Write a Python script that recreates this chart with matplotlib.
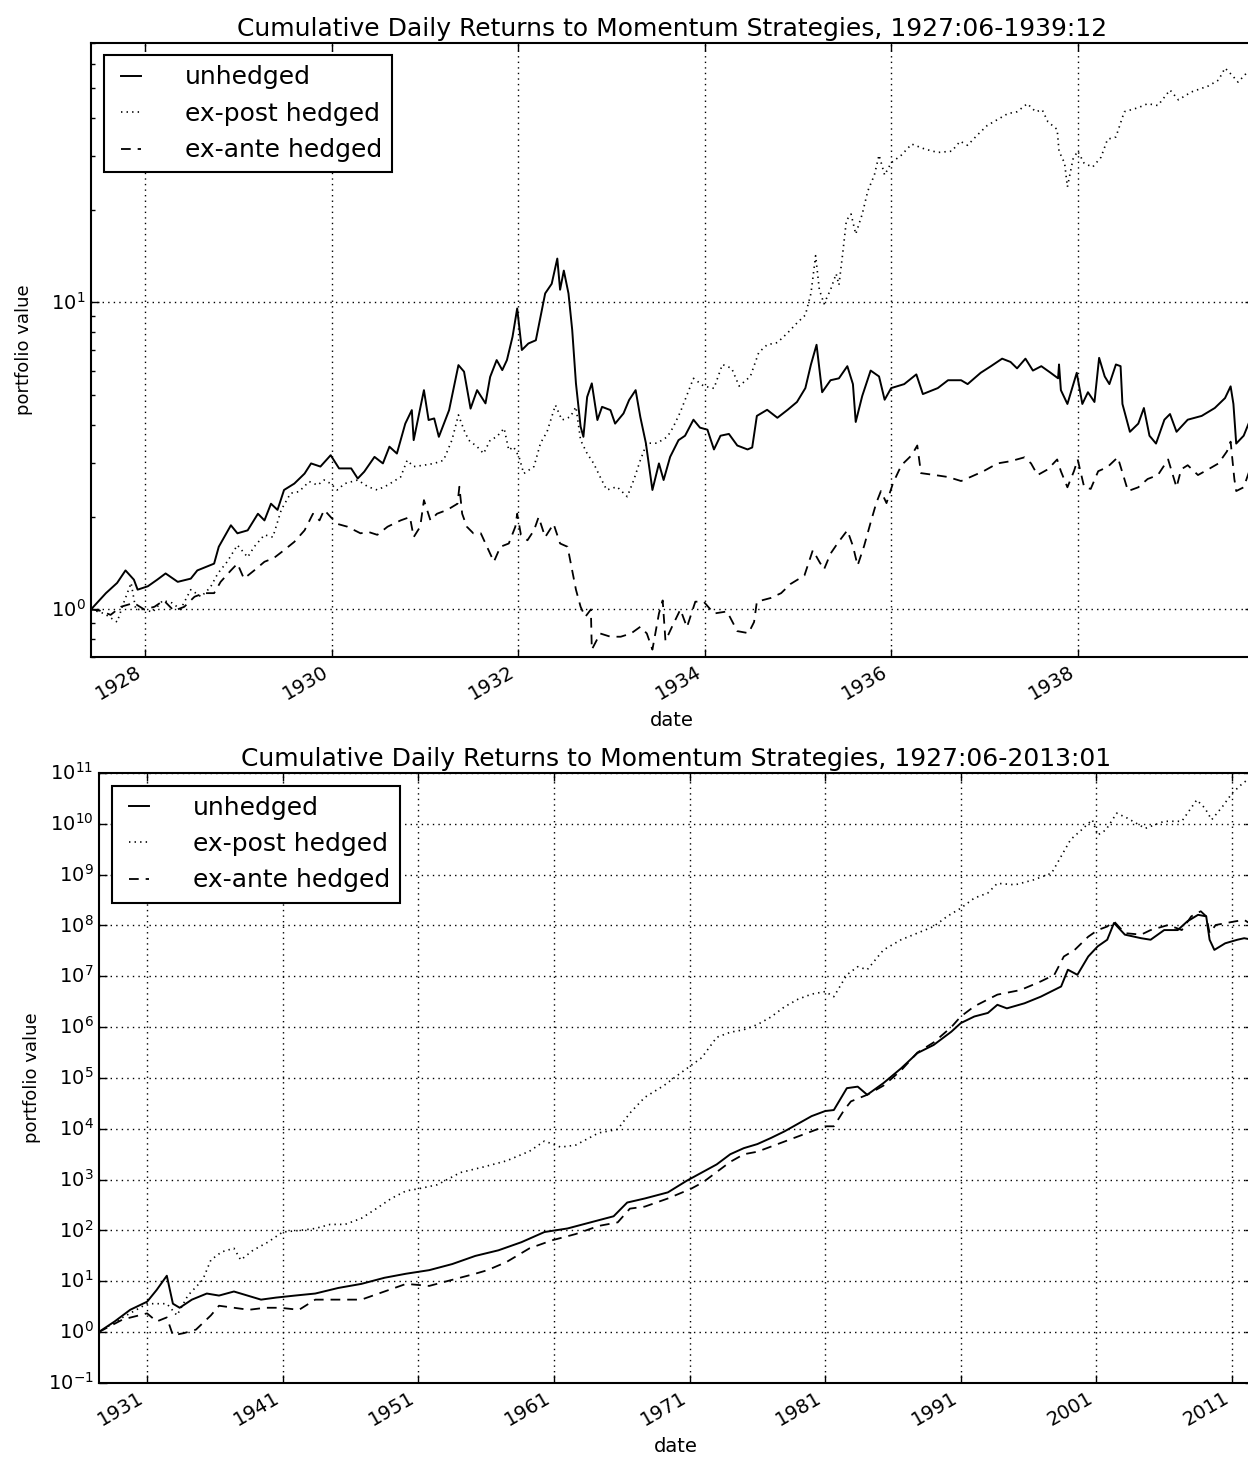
import matplotlib
matplotlib.use("Agg")
import numpy as np
import matplotlib.pyplot as plt
from matplotlib.ticker import FixedLocator, NullFormatter, NullLocator

#%% data (decimal years, portfolio value)

# 1927:06 - 1939:12 panel
top_unhedged_t = [1927.42, 1927.58, 1927.70, 1927.79, 1927.88, 1927.92, 1928.03, 1928.13, 1928.22, 1928.35,
                  1928.49, 1928.56, 1928.74, 1928.79, 1928.92, 1928.99, 1929.10, 1929.21, 1929.28, 1929.35,
                  1929.42, 1929.49, 1929.60, 1929.71, 1929.78, 1929.88, 1929.99, 1930.08, 1930.21, 1930.28,
                  1930.35, 1930.46, 1930.55, 1930.62, 1930.70, 1930.79, 1930.86, 1930.88, 1930.99, 1931.04,
                  1931.10, 1931.15, 1931.26, 1931.36, 1931.42, 1931.49, 1931.56, 1931.65, 1931.70, 1931.77,
                  1931.83, 1931.88, 1931.94, 1931.99, 1932.04, 1932.11, 1932.19, 1932.24, 1932.29, 1932.36,
                  1932.42, 1932.45, 1932.49, 1932.54, 1932.58, 1932.62, 1932.67, 1932.70, 1932.74, 1932.79,
                  1932.85, 1932.90, 1932.99, 1933.04, 1933.13, 1933.19, 1933.26, 1933.31, 1933.37, 1933.44,
                  1933.51, 1933.56, 1933.63, 1933.72, 1933.79, 1933.88, 1933.95, 1934.03, 1934.10, 1934.17,
                  1934.26, 1934.35, 1934.46, 1934.51, 1934.56, 1934.67, 1934.78, 1934.89, 1934.99, 1935.08,
                  1935.14, 1935.20, 1935.26, 1935.35, 1935.44, 1935.53, 1935.59, 1935.62, 1935.69, 1935.78,
                  1935.87, 1935.93, 1936.00, 1936.14, 1936.27, 1936.34, 1936.50, 1936.61, 1936.75, 1936.82,
                  1936.96, 1937.07, 1937.19, 1937.28, 1937.35, 1937.44, 1937.52, 1937.61, 1937.71, 1937.79,
                  1937.80, 1937.82, 1937.89, 1937.99, 1938.05, 1938.11, 1938.18, 1938.23, 1938.29, 1938.34,
                  1938.41, 1938.46, 1938.48, 1938.56, 1938.65, 1938.71, 1938.77, 1938.84, 1938.93, 1938.99,
                  1939.06, 1939.18, 1939.33, 1939.47, 1939.58, 1939.64, 1939.67, 1939.70, 1939.78, 1939.84]
top_unhedged_v = [1.00, 1.13, 1.22, 1.34, 1.25, 1.16, 1.19, 1.25, 1.31, 1.23,
                  1.26, 1.34, 1.41, 1.60, 1.88, 1.77, 1.81, 2.05, 1.95, 2.21,
                  2.11, 2.45, 2.57, 2.77, 2.99, 2.92, 3.18, 2.88, 2.88, 2.67,
                  2.81, 3.14, 2.99, 3.39, 3.22, 4.03, 4.46, 3.56, 5.18, 4.14,
                  4.19, 3.65, 4.46, 6.25, 5.95, 4.51, 5.18, 4.69, 5.72, 6.49,
                  6.02, 6.49, 7.73, 9.56, 7.00, 7.35, 7.53, 8.98, 10.7, 11.5,
                  13.9, 11.0, 12.7, 10.7, 8.13, 5.45, 3.94, 3.65, 4.92, 5.45,
                  4.14, 4.57, 4.46, 4.03, 4.35, 4.81, 5.18, 4.24, 3.48, 2.45,
                  2.99, 2.64, 3.14, 3.56, 3.68, 4.15, 3.91, 3.85, 3.32, 3.68,
                  3.73, 3.42, 3.32, 3.37, 4.27, 4.47, 4.21, 4.47, 4.74, 5.26,
                  6.28, 7.28, 5.10, 5.58, 5.66, 6.20, 5.42, 4.08, 4.96, 6.00,
                  5.74, 4.82, 5.26, 5.42, 5.83, 5.03, 5.26, 5.58, 5.58, 5.42,
                  5.90, 6.20, 6.56, 6.40, 6.10, 6.56, 6.00, 6.20, 5.90, 5.66,
                  6.28, 5.18, 4.67, 5.90, 4.67, 5.10, 4.74, 6.60, 5.74, 5.42,
                  6.28, 6.20, 4.67, 3.79, 4.03, 4.53, 3.68, 3.47, 4.15, 4.33,
                  3.79, 4.15, 4.27, 4.53, 4.88, 5.33, 4.67, 3.47, 3.68, 4.08]

top_expost_t = [1927.42, 1927.56, 1927.70, 1927.77, 1927.85, 1927.90, 1927.99, 1928.08, 1928.19, 1928.29,
                1928.38, 1928.49, 1928.60, 1928.70, 1928.78, 1928.88, 1928.99, 1929.10, 1929.17, 1929.28,
                1929.37, 1929.46, 1929.56, 1929.65, 1929.76, 1929.85, 1929.92, 1929.99, 1930.06, 1930.14,
                1930.28, 1930.39, 1930.49, 1930.60, 1930.74, 1930.81, 1930.88, 1930.99, 1931.10, 1931.20,
                1931.29, 1931.36, 1931.42, 1931.47, 1931.56, 1931.63, 1931.70, 1931.77, 1931.85, 1931.90,
                1931.95, 1932.01, 1932.06, 1932.17, 1932.24, 1932.31, 1932.40, 1932.47, 1932.56, 1932.62,
                1932.67, 1932.74, 1932.81, 1932.88, 1932.95, 1933.06, 1933.17, 1933.24, 1933.31, 1933.38,
                1933.49, 1933.60, 1933.66, 1933.74, 1933.88, 1933.99, 1934.10, 1934.19, 1934.29, 1934.37,
                1934.49, 1934.58, 1934.67, 1934.78, 1934.89, 1934.99, 1935.08, 1935.14, 1935.19, 1935.23,
                1935.28, 1935.35, 1935.41, 1935.44, 1935.48, 1935.52, 1935.57, 1935.62, 1935.69, 1935.75,
                1935.82, 1935.87, 1935.93, 1936.00, 1936.11, 1936.22, 1936.36, 1936.50, 1936.65, 1936.74,
                1936.82, 1936.92, 1937.03, 1937.14, 1937.25, 1937.35, 1937.46, 1937.55, 1937.62, 1937.68,
                1937.78, 1937.80, 1937.86, 1937.89, 1937.95, 1938.00, 1938.07, 1938.16, 1938.25, 1938.32,
                1938.41, 1938.50, 1938.65, 1938.75, 1938.86, 1938.99, 1939.08, 1939.22, 1939.40, 1939.51,
                1939.58, 1939.65, 1939.72, 1939.84]
top_expost_v = [1.00, 0.97, 0.91, 1.05, 1.22, 1.00, 1.00, 0.98, 1.07, 1.05,
                1.00, 1.16, 1.10, 1.18, 1.31, 1.43, 1.62, 1.48, 1.60, 1.75,
                1.72, 2.11, 2.39, 2.42, 2.61, 2.54, 2.64, 2.57, 2.45, 2.57,
                2.64, 2.51, 2.45, 2.54, 2.70, 3.06, 2.92, 2.95, 2.99, 3.06,
                3.56, 4.30, 3.84, 3.56, 3.39, 3.22, 3.56, 3.65, 3.89, 3.30,
                3.39, 3.14, 2.77, 2.92, 3.48, 3.79, 4.63, 4.14, 4.24, 4.57,
                3.56, 3.22, 2.99, 2.70, 2.45, 2.51, 2.33, 2.64, 3.06, 3.48,
                3.48, 3.65, 3.91, 4.40, 5.66, 5.34, 5.25, 6.28, 6.10, 5.34,
                5.74, 6.87, 7.28, 7.40, 7.96, 8.57, 9.10, 10.7, 14.2, 11.0,
                9.90, 11.0, 12.4, 11.4, 14.4, 18.5, 19.4, 16.7, 19.4, 23.1,
                26.0, 30.2, 26.0, 28.5, 30.2, 32.8, 31.6, 30.8, 31.1, 33.5,
                32.5, 35.0, 37.7, 39.4, 41.2, 41.8, 44.4, 41.8, 42.4, 38.8,
                36.6, 31.1, 28.4, 23.8, 29.3, 31.1, 28.4, 27.6, 29.7, 34.0,
                34.6, 41.8, 43.1, 44.4, 43.8, 49.2, 45.7, 48.5, 50.7, 53.0,
                58.0, 55.2, 52.2, 57.1]

top_exante_t = [1927.42, 1927.52, 1927.63, 1927.74, 1927.88, 1927.99, 1928.10, 1928.20, 1928.31, 1928.42,
                1928.53, 1928.63, 1928.74, 1928.81, 1928.92, 1928.99, 1929.06, 1929.17, 1929.28, 1929.38,
                1929.49, 1929.60, 1929.71, 1929.80, 1929.87, 1929.92, 1929.99, 1930.06, 1930.17, 1930.31,
                1930.39, 1930.49, 1930.60, 1930.74, 1930.84, 1930.88, 1930.95, 1930.99, 1931.06, 1931.13,
                1931.24, 1931.35, 1931.37, 1931.40, 1931.45, 1931.52, 1931.60, 1931.65, 1931.74, 1931.81,
                1931.90, 1931.97, 1931.99, 1932.03, 1932.10, 1932.17, 1932.22, 1932.29, 1932.38, 1932.45,
                1932.53, 1932.58, 1932.62, 1932.67, 1932.72, 1932.78, 1932.79, 1932.88, 1932.99, 1933.10,
                1933.21, 1933.31, 1933.38, 1933.44, 1933.51, 1933.55, 1933.58, 1933.65, 1933.74, 1933.81,
                1933.90, 1933.99, 1934.10, 1934.24, 1934.35, 1934.47, 1934.53, 1934.56, 1934.71, 1934.82,
                1934.92, 1935.07, 1935.16, 1935.23, 1935.28, 1935.35, 1935.43, 1935.53, 1935.59, 1935.64,
                1935.71, 1935.78, 1935.84, 1935.89, 1935.95, 1936.02, 1936.11, 1936.22, 1936.28, 1936.32,
                1936.47, 1936.61, 1936.75, 1936.85, 1936.99, 1937.14, 1937.28, 1937.43, 1937.50, 1937.57,
                1937.68, 1937.78, 1937.82, 1937.89, 1937.96, 1938.00, 1938.07, 1938.14, 1938.22, 1938.32,
                1938.43, 1938.54, 1938.65, 1938.75, 1938.86, 1938.97, 1939.06, 1939.11, 1939.18, 1939.29,
                1939.40, 1939.51, 1939.60, 1939.64, 1939.68, 1939.70, 1939.78, 1939.84]
top_exante_v = [1.00, 0.99, 0.96, 1.02, 1.05, 1.00, 1.02, 1.07, 0.99, 1.02,
                1.10, 1.13, 1.13, 1.23, 1.34, 1.41, 1.26, 1.34, 1.43, 1.47,
                1.56, 1.66, 1.81, 2.05, 1.95, 2.11, 2.00, 1.90, 1.86, 1.77,
                1.79, 1.75, 1.86, 1.95, 2.00, 1.72, 1.86, 2.27, 1.95, 2.05,
                2.11, 2.21, 2.51, 2.05, 1.86, 1.77, 1.77, 1.64, 1.43, 1.60,
                1.64, 1.86, 2.05, 1.75, 1.68, 1.81, 2.00, 1.72, 1.90, 1.64,
                1.60, 1.34, 1.16, 1.02, 0.946, 1.00, 0.74, 0.835, 0.815, 0.815,
                0.835, 0.878, 0.835, 0.74, 0.97, 1.07, 0.79, 0.878, 1.00, 0.875,
                1.06, 1.06, 0.97, 0.985, 0.85, 0.837, 0.91, 1.06, 1.09, 1.13,
                1.21, 1.29, 1.56, 1.43, 1.35, 1.52, 1.65, 1.81, 1.61, 1.39,
                1.61, 1.92, 2.22, 2.43, 2.22, 2.58, 2.95, 3.18, 3.42, 2.78,
                2.74, 2.70, 2.62, 2.70, 2.82, 2.99, 3.04, 3.13, 2.99, 2.74,
                2.86, 3.08, 2.82, 2.50, 2.82, 3.08, 2.50, 2.47, 2.82, 2.91,
                3.13, 2.43, 2.50, 2.66, 2.74, 3.08, 2.50, 2.86, 2.95, 2.74,
                2.86, 2.99, 3.27, 3.52, 2.66, 2.43, 2.50, 2.82]

# 1927:06 - 2013:01 panel, log10 of portfolio value
full_unhedged_t = [1927.42, 1928.6, 1929.75, 1931.0, 1931.7, 1932.45, 1932.9, 1933.4, 1934.3, 1935.4,
                   1936.3, 1937.4, 1938.4, 1939.4, 1940.5, 1941.9, 1943.4, 1945.1, 1946.8, 1948.5,
                   1950.1, 1951.8, 1953.5, 1955.2, 1956.9, 1958.6, 1960.3, 1962.0, 1963.7, 1965.4,
                   1966.4, 1967.7, 1969.4, 1970.8, 1971.9, 1973.0, 1974.0, 1975.0, 1976.0, 1977.0,
                   1978.0, 1979.0, 1980.0, 1981.0, 1981.64, 1982.6, 1983.4, 1984.1, 1985.3, 1986.6,
                   1987.8, 1989.0, 1990.3, 1991.0, 1992.0, 1993.0, 1993.7, 1994.4, 1995.7, 1996.9,
                   1998.4, 1998.9, 1999.6, 2000.4, 2001.1, 2001.8, 2002.3, 2003.1, 2004.3, 2005.0,
                   2006.0, 2007.0, 2007.7, 2008.5, 2009.1, 2009.35, 2009.7, 2010.5, 2011.4, 2011.9,
                   2012.5]
full_unhedged_log = [0.0, 0.21, 0.44, 0.6, 0.83, 1.11, 0.56, 0.48, 0.64, 0.76,
                     0.72, 0.8, 0.72, 0.64, 0.68, 0.72, 0.76, 0.87, 0.95, 1.07,
                     1.15, 1.22, 1.34, 1.5, 1.61, 1.77, 1.97, 2.04, 2.16, 2.28,
                     2.55, 2.63, 2.75, 2.98, 3.14, 3.3, 3.5, 3.62, 3.7, 3.82,
                     3.95, 4.1, 4.25, 4.35, 4.37, 4.8, 4.83, 4.67, 4.9, 5.19,
                     5.49, 5.65, 5.91, 6.08, 6.21, 6.28, 6.44, 6.37, 6.47, 6.6,
                     6.8, 7.13, 7.03, 7.39, 7.59, 7.72, 8.05, 7.82, 7.75, 7.72,
                     7.91, 7.91, 8.08, 8.21, 8.18, 7.72, 7.52, 7.65, 7.72, 7.75,
                     7.72]

full_expost_t = [1927.42, 1929.2, 1931.0, 1932.45, 1933.2, 1934.0, 1935.1, 1935.7, 1936.5, 1937.4,
                 1937.9, 1938.8, 1939.9, 1941.0, 1942.2, 1943.4, 1944.5, 1945.6, 1946.8, 1947.9,
                 1949.0, 1950.1, 1951.0, 1952.4, 1954.1, 1955.8, 1957.5, 1959.2, 1960.3, 1961.5,
                 1962.6, 1964.3, 1965.7, 1966.6, 1967.7, 1969.1, 1970.3, 1971.9, 1973.0, 1974.0,
                 1975.0, 1976.0, 1977.0, 1978.0, 1979.0, 1980.0, 1981.0, 1981.64, 1982.6, 1983.4,
                 1984.1, 1985.3, 1986.6, 1987.8, 1989.0, 1990.0, 1991.0, 1992.0, 1993.0, 1993.7,
                 1995.0, 1996.4, 1997.7, 1998.4, 1999.1, 1999.9, 2000.7, 2001.1, 2001.7, 2002.5,
                 2003.3, 2004.6, 2006.0, 2007.3, 2008.4, 2009.0, 2009.5, 2010.3, 2011.0, 2011.8,
                 2012.5]
full_expost_log = [0.0, 0.29, 0.56, 0.56, 0.33, 0.72, 1.03, 1.42, 1.58, 1.65,
                   1.42, 1.61, 1.77, 1.97, 2.0, 2.04, 2.12, 2.12, 2.24, 2.43,
                   2.63, 2.78, 2.82, 2.9, 3.14, 3.25, 3.37, 3.56, 3.76, 3.64,
                   3.68, 3.92, 3.99, 4.31, 4.62, 4.85, 5.09, 5.4, 5.8, 5.9,
                   5.95, 6.05, 6.2, 6.4, 6.55, 6.65, 6.7, 6.6, 7.03, 7.19,
                   7.13, 7.52, 7.72, 7.85, 7.98, 8.18, 8.34, 8.54, 8.64, 8.83,
                   8.8, 8.9, 9.03, 9.36, 9.69, 9.88, 10.08, 9.78, 9.88, 10.21,
                   10.11, 9.91, 10.05, 10.05, 10.47, 10.31, 10.08, 10.34, 10.6, 10.8,
                   10.93]

full_exante_t = [1927.42, 1929.2, 1931.0, 1931.7, 1932.45, 1932.9, 1933.7, 1934.6, 1935.7, 1936.3,
                 1937.4, 1938.5, 1939.7, 1940.8, 1942.2, 1943.4, 1945.1, 1946.8, 1948.5, 1950.1,
                 1951.8, 1953.5, 1955.2, 1956.1, 1957.5, 1959.2, 1960.9, 1962.6, 1964.3, 1965.7,
                 1966.6, 1967.7, 1969.4, 1971.1, 1972.0, 1973.0, 1974.0, 1975.0, 1976.0, 1977.0,
                 1978.0, 1979.0, 1980.0, 1981.0, 1981.64, 1982.4, 1982.9, 1984.1, 1985.3, 1986.6,
                 1987.8, 1989.0, 1990.3, 1991.0, 1992.0, 1993.7, 1995.4, 1996.9, 1997.9, 1998.6,
                 1999.4, 2000.4, 2001.1, 2001.8, 2002.3, 2003.1, 2004.3, 2005.0, 2006.3, 2007.3,
                 2008.0, 2008.7, 2009.1, 2009.35, 2009.8, 2011.2, 2011.9, 2012.5]
full_exante_log = [0.0, 0.25, 0.37, 0.21, 0.29, -0.06, -0.02, 0.05, 0.33, 0.52,
                   0.48, 0.44, 0.48, 0.48, 0.44, 0.64, 0.64, 0.64, 0.8, 0.95,
                   0.91, 1.03, 1.15, 1.22, 1.38, 1.65, 1.81, 1.93, 2.09, 2.16,
                   2.43, 2.47, 2.63, 2.82, 2.95, 3.15, 3.35, 3.5, 3.55, 3.65,
                   3.75, 3.85, 3.95, 4.05, 4.05, 4.37, 4.54, 4.67, 4.85, 5.15,
                   5.5, 5.7, 6.0, 6.21, 6.41, 6.64, 6.73, 6.9, 7.03, 7.39,
                   7.52, 7.78, 7.91, 7.98, 8.08, 7.85, 7.82, 7.91, 8.01, 7.91,
                   8.18, 8.28, 8.18, 7.85, 8.01, 8.08, 8.11, 8.01]

labels = ["unhedged", "ex-post hedged", "ex-ante hedged"]

top_ticks = [1928, 1930, 1932, 1934, 1936, 1938]
full_ticks = [1931, 1941, 1951, 1961, 1971, 1981, 1991, 2001, 2011]

#%% figure

plt.style.use("classic")
plt.rcParams["font.family"] = ["DejaVu Sans"]
plt.rcParams["figure.facecolor"] = "white"
plt.rcParams["savefig.facecolor"] = "white"
plt.rcParams["axes.linewidth"] = 1.5

W, H = 1248, 1459
fig = plt.figure(figsize=(W / 100, H / 100), dpi=100)

ax1 = fig.add_axes([91 / W, 1 - 657 / H, (1253 - 91) / W, (657 - 43) / H])
ax2 = fig.add_axes([99 / W, 1 - 1383 / H, (1253 - 99) / W, (1383 - 773) / H])

DASH = (7, 5)

# top panel
ax1.plot(top_unhedged_t, top_unhedged_v, "k-", lw=1.4, label=labels[0])
ax1.plot(top_expost_t, top_expost_v, "k:", lw=1.2, label=labels[1])
ax1.plot(top_exante_t, top_exante_v, "k--", lw=1.3, dashes=DASH, label=labels[2])
ax1.set_yscale("log")
ax1.set_ylim(0.7, 70)
ax1.set_xlim(1927.42, 1939.88)
ax1.set_xticks(top_ticks)
ax1.set_xticklabels([str(y) for y in top_ticks])
ax1.yaxis.set_minor_formatter(NullFormatter())
ax1.set_title("Cumulative Daily Returns to Momentum Strategies, 1927:06-1939:12", fontsize=18)

# full-period panel
ax2.plot(full_unhedged_t, 10.0 ** np.array(full_unhedged_log), "k-", lw=1.4, label=labels[0])
ax2.plot(full_expost_t, 10.0 ** np.array(full_expost_log), "k:", lw=1.2, label=labels[1])
ax2.plot(full_exante_t, 10.0 ** np.array(full_exante_log), "k--", lw=1.3, dashes=DASH, label=labels[2])
ax2.set_yscale("log")
ax2.set_ylim(1e-1, 1e11)
ax2.set_xlim(1927.45, 2012.55)
ax2.set_xticks(full_ticks)
ax2.set_xticklabels([str(y) for y in full_ticks])
ax2.yaxis.set_major_locator(FixedLocator([10.0 ** k for k in range(-1, 12)]))
ax2.yaxis.set_minor_locator(NullLocator())
ax2.set_title("Cumulative Daily Returns to Momentum Strategies, 1927:06-2013:01", fontsize=18)

for ax in (ax1, ax2):
    ax.grid(True, which="major", color="k", linestyle=":", linewidth=1.0)
    ax.set_xlabel("date", fontsize=14)
    ax.set_ylabel("portfolio value", fontsize=13)
    ax.yaxis.set_label_coords(-0.050, 0.5)
    ax.tick_params(axis="both", which="major", labelsize=14, direction="in", length=6, width=1)
    ax.tick_params(axis="y", which="minor", direction="in", length=3, width=1)
    for lab in ax.get_xticklabels():
        lab.set_rotation(30)
        lab.set_ha("right")
    leg = ax.legend(loc="upper left", fontsize=18, handlelength=1.4, handletextpad=1.45,
                    borderpad=0.4, labelspacing=0.5, fancybox=False, borderaxespad=0.5)
    leg.get_frame().set_linewidth(1.5)
    leg.get_frame().set_edgecolor("k")

fig.savefig("out.png", dpi=100)
